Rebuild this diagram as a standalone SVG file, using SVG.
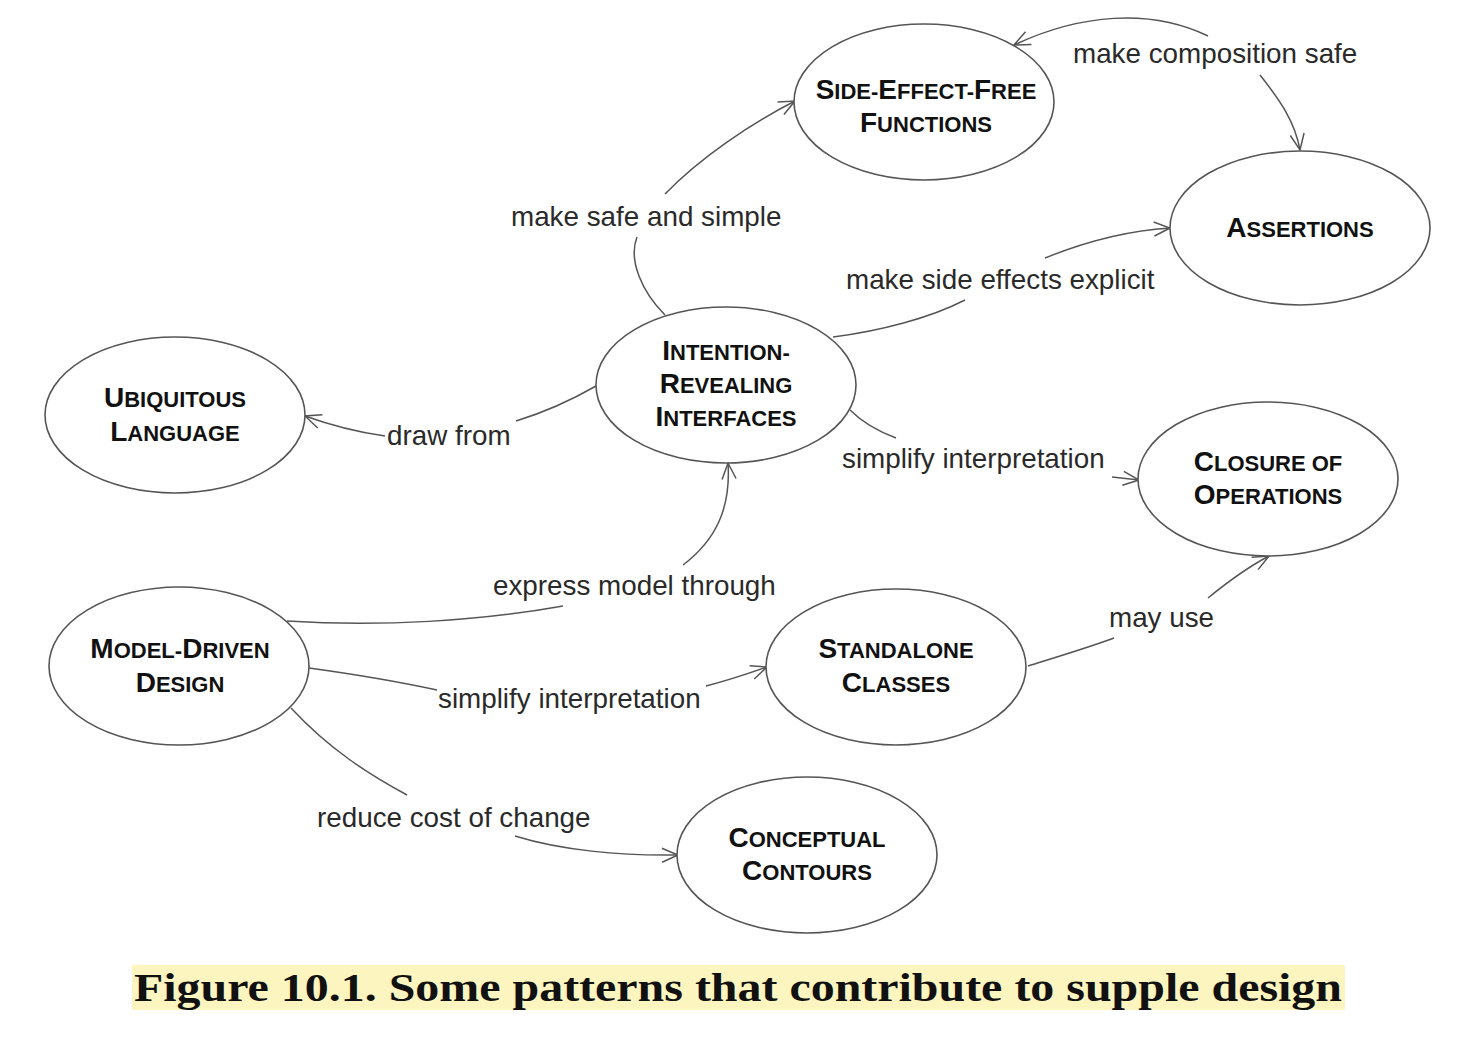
<svg xmlns="http://www.w3.org/2000/svg" width="1466" height="1048" viewBox="0 0 1466 1048">
<style>
  .node ellipse { fill: #fff; stroke: #555; stroke-width: 1.6; }
  .node text { font-family: "Liberation Sans", Arial, sans-serif; font-weight: bold; font-size: 22px; fill: #111; text-anchor: middle; }
  .node .c { font-size: 28px; }
  .conn path { fill: none; stroke: #555; stroke-width: 1.5; }
  .conn path.arr { marker-end: url(#arrow); }
  .lbl { font-family: "Liberation Sans", Arial, sans-serif; font-size: 27.8px; fill: #2a2a2a; }
  .cap { font-family: Georgia, "Liberation Serif", "DejaVu Serif", serif; font-weight: bold; font-size: 41px; fill: #111; }
</style>
<defs>
  <marker id="arrow" markerUnits="userSpaceOnUse" markerWidth="20" markerHeight="20" refX="0" refY="0" viewBox="-18 -10 20 20" orient="auto">
    <path d="M-16,-7 L0,0 L-16,7" fill="none" stroke="#555" stroke-width="1.5"/>
  </marker>
</defs>
<rect width="1466" height="1048" fill="#fff"/>

<g id="connectors" class="conn">
  <!-- make composition safe -->
  <path class="arr" d="M1208,36 C1150,8 1080,14 1014,45"/>
  <path class="arr" d="M1260,75 C1280,100 1295,122 1300,150"/>
  <!-- make safe and simple -->
  <path d="M665,315 C642,292 628,260 637,237"/>
  <path class="arr" d="M665,194 C700,158 750,124 795,101"/>
  <!-- make side effects explicit -->
  <path d="M833,337 C880,331 930,318 965,300"/>
  <path class="arr" d="M1045,258 C1082,243 1122,231 1170,228"/>
  <!-- draw from -->
  <path d="M596,386 C570,401 542,413 516,421"/>
  <path class="arr" d="M385,436 C356,432 330,425 305,416"/>
  <!-- simplify interpretation (upper) -->
  <path d="M850,410 C864,424 880,432 896,438"/>
  <path class="arr" d="M1112,477 L1139,480"/>
  <!-- express model through -->
  <path d="M287,621 C380,627 480,621 563,606"/>
  <path class="arr" d="M683,565 C716,540 731,508 728,463"/>
  <!-- simplify interpretation (lower) -->
  <path d="M309,668 C360,675 400,682 437,690"/>
  <path class="arr" d="M706,686 C730,680 750,673 767,667"/>
  <!-- may use -->
  <path d="M1028,666 C1060,656 1090,647 1114,638"/>
  <path class="arr" d="M1208,598 C1230,580 1250,566 1269,556"/>
  <!-- reduce cost of change -->
  <path d="M291,708 C330,750 370,775 407,795"/>
  <path class="arr" d="M515,836 C560,850 620,856 678,855"/>
</g>

<g id="labels">
  <text class="lbl" x="1073" y="63">make composition safe</text>
  <text class="lbl" x="511" y="226">make safe and simple</text>
  <text class="lbl" x="846" y="289">make side effects explicit</text>
  <text class="lbl" x="387" y="445">draw from</text>
  <text class="lbl" x="842" y="468">simplify interpretation</text>
  <text class="lbl" x="493" y="595">express model through</text>
  <text class="lbl" x="438" y="708">simplify interpretation</text>
  <text class="lbl" x="1109" y="627">may use</text>
  <text class="lbl" x="317" y="827">reduce cost of change</text>
</g>

<g id="node-side-effect-free-functions" class="node">
  <ellipse cx="924" cy="102" rx="130" ry="78"/>
  <text x="926" y="99"><tspan class="c">S</tspan>IDE-<tspan class="c">E</tspan>FFECT-<tspan class="c">F</tspan>REE</text>
  <text x="926" y="132"><tspan class="c">F</tspan>UNCTIONS</text>
</g>

<g id="node-assertions" class="node">
  <ellipse cx="1300" cy="228" rx="130" ry="77"/>
  <text x="1300" y="237"><tspan class="c">A</tspan>SSERTIONS</text>
</g>

<g id="node-intention-revealing-interfaces" class="node">
  <ellipse cx="726" cy="385" rx="130" ry="78"/>
  <text x="726" y="360"><tspan class="c">I</tspan>NTENTION-</text>
  <text x="726" y="393"><tspan class="c">R</tspan>EVEALING</text>
  <text x="726" y="426"><tspan class="c">I</tspan>NTERFACES</text>
</g>

<g id="node-ubiquitous-language" class="node">
  <ellipse cx="175" cy="415" rx="130" ry="78"/>
  <text x="175" y="407"><tspan class="c">U</tspan>BIQUITOUS</text>
  <text x="175" y="441"><tspan class="c">L</tspan>ANGUAGE</text>
</g>

<g id="node-closure-of-operations" class="node">
  <ellipse cx="1268" cy="479" rx="130" ry="77"/>
  <text x="1268" y="471"><tspan class="c">C</tspan>LOSURE OF</text>
  <text x="1268" y="504"><tspan class="c">O</tspan>PERATIONS</text>
</g>

<g id="node-model-driven-design" class="node">
  <ellipse cx="179" cy="666" rx="130" ry="79"/>
  <text x="180" y="658"><tspan class="c">M</tspan>ODEL-<tspan class="c">D</tspan>RIVEN</text>
  <text x="180" y="692"><tspan class="c">D</tspan>ESIGN</text>
</g>

<g id="node-standalone-classes" class="node">
  <ellipse cx="896" cy="667" rx="130" ry="78"/>
  <text x="896" y="658"><tspan class="c">S</tspan>TANDALONE</text>
  <text x="896" y="692"><tspan class="c">C</tspan>LASSES</text>
</g>

<g id="node-conceptual-contours" class="node">
  <ellipse cx="807" cy="855" rx="130" ry="78"/>
  <text x="807" y="847"><tspan class="c">C</tspan>ONCEPTUAL</text>
  <text x="807" y="880"><tspan class="c">C</tspan>ONTOURS</text>
</g>

<g id="caption">
  <rect x="132" y="965" width="1213" height="45" fill="#fdf5c0"/>
  <text class="cap" x="134" y="1001" textLength="1208" lengthAdjust="spacingAndGlyphs">Figure 10.1. Some patterns that contribute to supple design</text>
</g>
</svg>
